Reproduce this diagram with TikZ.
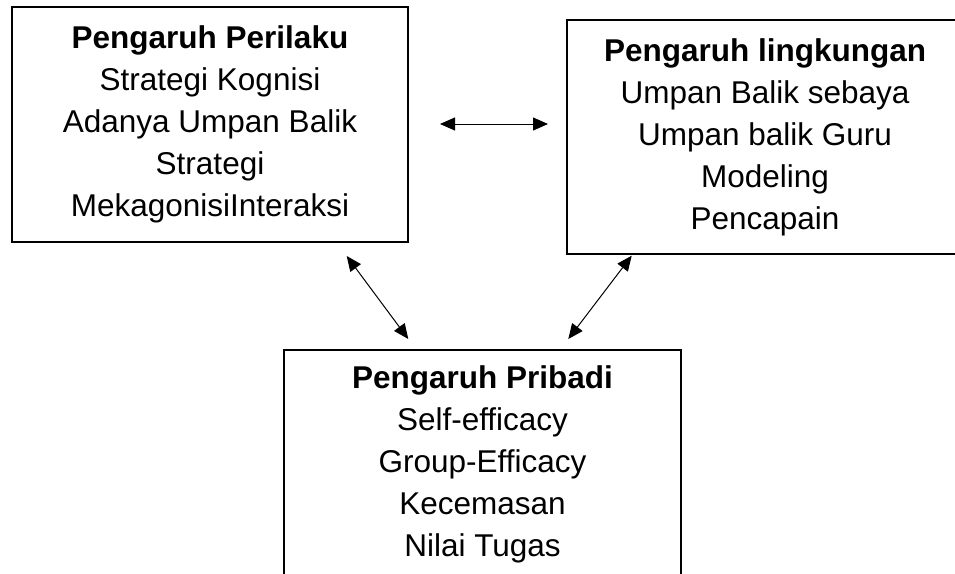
\documentclass[tikz,border=0pt]{standalone}
\usepackage{fontspec}
\setmainfont{Liberation Sans}
\usetikzlibrary{arrows.meta}

\begin{document}
\begin{tikzpicture}[x=1pt,y=-1pt,
  factorbox/.style={draw=black, line width=2.2pt, rectangle, inner sep=0pt,
    align=center, font=\fontsize{31.5}{42}\selectfont},
  link/.style={line width=1pt, {Triangle[length=15pt,width=13pt]}-{Triangle[length=15pt,width=13pt]}}]
  \useasboundingbox (0,0) rectangle (955,573);

  % the three groups of influences
  \node[factorbox, minimum width=396pt, minimum height=235pt] (perilaku) at (210,124.5)
    {\textbf{Pengaruh Perilaku}\\Strategi Kognisi\\Adanya Umpan Balik\\Strategi\\MekagonisiInteraksi};
  \node[factorbox, minimum width=396pt, minimum height=234pt] (lingkungan) at (765,137)
    {\textbf{Pengaruh lingkungan}\\Umpan Balik sebaya\\Umpan balik Guru\\Modeling\\Pencapain};
  \node[factorbox, minimum width=397pt, minimum height=228pt] (pribadi) at (482.5,464)
    {\textbf{Pengaruh Pribadi}\\Self-efficacy\\Group-Efficacy\\Kecemasan\\Nilai Tugas};

  % end points of the reciprocal links
  \coordinate (hl) at (440,124);
  \coordinate (hr) at (548,124);
  \coordinate (dlt) at (346.7,256);
  \coordinate (dlb) at (408.3,339);
  \coordinate (drt) at (631.7,255.7);
  \coordinate (drb) at (568.3,339);

  \draw[link] (hl) -- (hr);
  \draw[link] (dlt) -- (dlb);
  \draw[link] (drt) -- (drb);
\end{tikzpicture}
\end{document}
